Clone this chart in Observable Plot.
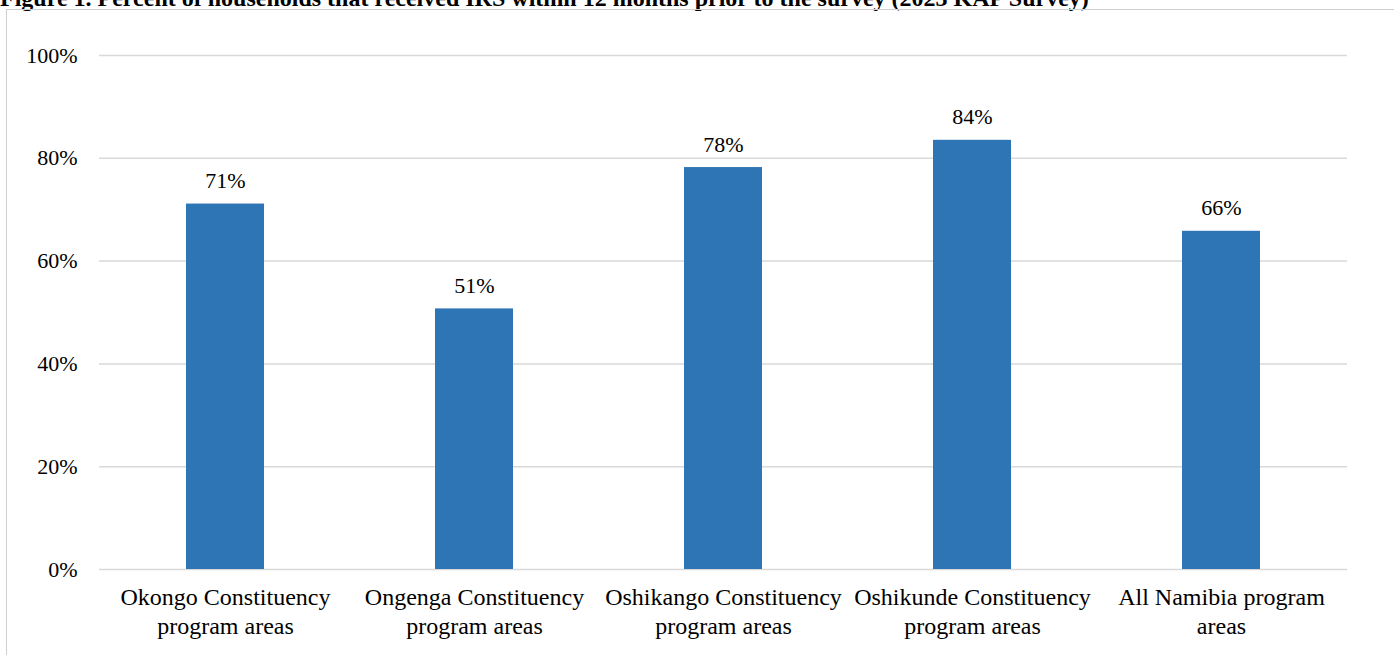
<!DOCTYPE html>
<html>
<head>
<meta charset="utf-8">
<script src="https://cdn.jsdelivr.net/npm/d3@7"></script>
<script src="https://cdn.jsdelivr.net/npm/@observablehq/plot@0.6"></script>
<style>
  html, body { margin: 0; padding: 0; background: #fff; }
  body { width: 1394px; height: 655px; position: relative; overflow: hidden; font-family: "Liberation Serif", "Times New Roman", serif; }
  #title { position: absolute; left: 0; top: -14px; font-size: 24px; line-height: 24px; font-weight: bold; white-space: nowrap; color: #000; }
  #frame { position: absolute; left: 6px; top: 9px; width: 1500px; height: 800px; border-left: 1px solid #d0d0d0; border-top: 1px solid #d0d0d0; }
  #chart { position: absolute; left: 0; top: 0; }
</style>
</head>
<body>
<div id="title">Figure 1. Percent of households that received IRS within 12 months prior to the survey (2023 KAP Survey)</div>
<div id="frame"></div>
<div id="chart"></div>
<script>
const categories = [
  "Okongo Constituency\nprogram areas",
  "Ongenga Constituency\nprogram areas",
  "Oshikango Constituency\nprogram areas",
  "Oshikunde Constituency\nprogram areas",
  "All Namibia program\nareas"
];
const values = [71.1, 50.7, 78.2, 83.5, 65.8];
const yTicks = [0, 20, 40, 60, 80, 100];

const data = categories.map((c, i) => ({category: c, value: values[i]}));
const font = "Liberation Serif, Times New Roman, serif";

const chart = Plot.plot({
  width: 1394,
  height: 655,
  marginLeft: 99,
  marginRight: 47,
  marginTop: 55,
  marginBottom: 86,
  style: {background: "transparent", fontFamily: font, fontSize: "22px", color: "#000"},
  x: {
    domain: categories,
    paddingInner: 0.6875,
    paddingOuter: 0.34375,
    label: null
  },
  y: {
    domain: [0, 100],
    label: null
  },
  marks: [
    Plot.ruleY(yTicks, {stroke: "#d9d9d9", strokeWidth: 1.5}),
    Plot.barY(data, {x: "category", y: "value", fill: "#2e75b6"}),
    Plot.text(data, {
      x: "category", y: "value",
      text: d => Math.round(d.value) + "%",
      lineAnchor: "bottom", dy: -16,
      fontSize: 22, fill: "#000"
    }),
    Plot.axisY({
      ticks: yTicks,
      tickFormat: d => d + "%",
      tickSize: 0,
      tickPadding: 22,
      fontSize: 22,
      label: null
    }),
    Plot.axisX({
      tickSize: 0,
      tickPadding: 15,
      fontSize: 24,
      lineHeight: 1.2,
      label: null
    })
  ]
});
document.getElementById("chart").appendChild(chart);
</script>
</body>
</html>
